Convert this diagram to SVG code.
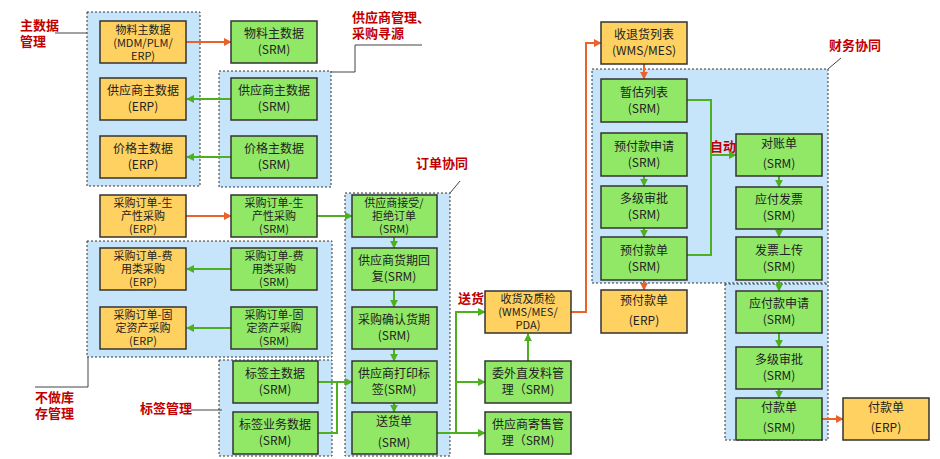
<svg xmlns="http://www.w3.org/2000/svg" width="940" height="459" viewBox="0 0 940 459">
<style>
.grp{fill:#C6E4FA;stroke:#333;stroke-width:1;stroke-dasharray:2,2}
.o rect{fill:#FFD160;stroke:#333;stroke-width:1.5}
.g rect{fill:#90E866;stroke:#333;stroke-width:1.5}
text{font-family:"Noto Sans CJK SC","Liberation Sans",sans-serif;font-size:12px;fill:#222;text-anchor:middle}
.t3 text{font-size:11px}
.lbl{fill:#C00000;font-weight:bold;font-size:13px;text-anchor:start}
.ln{fill:none;stroke:#444;stroke-width:1}
.ga{fill:none;stroke:#4DB01E;stroke-width:2;marker-end:url(#ag)}
.gl{fill:none;stroke:#4DB01E;stroke-width:2}
.oa{fill:none;stroke:#E8622A;stroke-width:2;marker-end:url(#ao)}
</style>
<defs>
<marker id="ag" viewBox="0 0 10 10" refX="9" refY="5" markerWidth="4" markerHeight="4" orient="auto"><path d="M0,0L10,5L0,10z" fill="#4DB01E"/></marker>
<marker id="ao" viewBox="0 0 10 10" refX="9" refY="5" markerWidth="4" markerHeight="4" orient="auto"><path d="M0,0L10,5L0,10z" fill="#E8622A"/></marker>
</defs>
<rect width="940" height="459" fill="#fff"/>
<g id="groups">
<rect class="grp" x="87" y="12" width="113" height="174"/>
<rect class="grp" x="219" y="71" width="112" height="116"/>
<rect class="grp" x="87" y="241" width="245" height="116"/>
<rect class="grp" x="219" y="360" width="113" height="96"/>
<rect class="grp" x="345" y="193" width="105" height="263"/>
<rect class="grp" x="592" y="69" width="236" height="214"/>
<rect class="grp" x="725" y="284" width="103" height="156"/>
</g>
<g id="labels">
<text class="lbl" x="20" y="30">主数据</text><text class="lbl" x="20" y="46">管理</text>
<path class="ln" d="M55,33H87"/>
<text class="lbl" x="352" y="22">供应商管理、</text><text class="lbl" x="352" y="38">采购寻源</text>
<path class="ln" d="M331,72H355V45H422"/>
<text class="lbl" x="416" y="168">订单协同</text>
<path class="ln" d="M450,193L460,181"/>
<text class="lbl" x="35" y="402">不做库</text><text class="lbl" x="35" y="418">存管理</text>
<path class="ln" d="M88,357V387H35"/>
<text class="lbl" x="140" y="413">标签管理</text>
<path class="ln" d="M191,410H222"/>
<text class="lbl" x="458" y="303">送货</text>
<text class="lbl" x="710" y="151">自动</text>
<text class="lbl" x="829" y="50">财务协同</text>
<path class="ln" d="M828,69L841,58"/>
</g>
<g id="connectors">
<path class="oa" d="M186,42H231"/>
<path class="oa" d="M186,216H231"/>
<path class="ga" d="M231,99H187"/>
<path class="ga" d="M231,157H187"/>
<path class="ga" d="M231,269H187"/>
<path class="ga" d="M231,328H187"/>
<path class="ga" d="M317,216H352"/>
<path class="ga" d="M394,237V248"/>
<path class="ga" d="M394,290V307"/>
<path class="ga" d="M394,349V361"/>
<path class="ga" d="M394,403V412"/>
<path class="ga" d="M318,382H352"/>
<path class="gl" d="M318,433H337V382"/>
<path class="ga" d="M437,433H456V312H485"/>
<path class="ga" d="M456,382H485"/>
<path class="ga" d="M456,433H485"/>
<path class="ga" d="M528,361V334"/>
<path class="oa" d="M571,312H586V43H601"/>
<path class="oa" d="M644,64V79"/>
<path class="gl" d="M687,100H711V255H687"/>
<path class="ga" d="M711,155H736"/>
<path class="ga" d="M644,176V186"/>
<path class="ga" d="M644,228V237"/>
<path class="oa" d="M644,280V290"/>
<path class="ga" d="M779,176V187"/>
<path class="ga" d="M779,229V237"/>
<path class="ga" d="M779,280V291"/>
<path class="ga" d="M779,333V347"/>
<path class="ga" d="M779,389V398"/>
<path class="oa" d="M822,419H843"/>
</g>
<g id="n1" class="o t3"><rect x="100" y="21" width="86" height="42"/><text x="143" y="34">物料主数据</text><text x="143" y="47">(MDM/PLM/</text><text x="143" y="60">ERP)</text></g>
<g id="n2" class="g"><rect x="231" y="21" width="86" height="42"/><text x="274" y="38">物料主数据</text><text x="274" y="54">(SRM)</text></g>
<g id="n3" class="o"><rect x="100" y="78" width="86" height="42"/><text x="143" y="95">供应商主数据</text><text x="143" y="111">(ERP)</text></g>
<g id="n4" class="g"><rect x="231" y="78" width="86" height="42"/><text x="274" y="95">供应商主数据</text><text x="274" y="111">(SRM)</text></g>
<g id="n5" class="o"><rect x="100" y="136" width="86" height="42"/><text x="143" y="153">价格主数据</text><text x="143" y="169">(ERP)</text></g>
<g id="n6" class="g"><rect x="231" y="136" width="86" height="42"/><text x="274" y="153">价格主数据</text><text x="274" y="169">(SRM)</text></g>
<g id="n7" class="o t3"><rect x="100" y="195" width="86" height="42"/><text x="143" y="207">采购订单-生</text><text x="143" y="220">产性采购</text><text x="143" y="233">(ERP)</text></g>
<g id="n8" class="g t3"><rect x="231" y="195" width="86" height="42"/><text x="274" y="207">采购订单-生</text><text x="274" y="220">产性采购</text><text x="274" y="233">(SRM)</text></g>
<g id="n9" class="o t3"><rect x="100" y="248" width="86" height="42"/><text x="143" y="260">采购订单-费</text><text x="143" y="273">用类采购</text><text x="143" y="286">(ERP)</text></g>
<g id="n10" class="g t3"><rect x="231" y="248" width="86" height="42"/><text x="274" y="260">采购订单-费</text><text x="274" y="273">用类采购</text><text x="274" y="286">(SRM)</text></g>
<g id="n11" class="o t3"><rect x="100" y="307" width="86" height="42"/><text x="143" y="319">采购订单-固</text><text x="143" y="332">定资产采购</text><text x="143" y="345">(ERP)</text></g>
<g id="n12" class="g t3"><rect x="231" y="307" width="86" height="42"/><text x="274" y="319">采购订单-固</text><text x="274" y="332">定资产采购</text><text x="274" y="345">(SRM)</text></g>
<g id="n13" class="g"><rect x="233" y="361" width="85" height="42"/><text x="275" y="378">标签主数据</text><text x="275" y="394">(SRM)</text></g>
<g id="n14" class="g"><rect x="233" y="412" width="85" height="42"/><text x="275" y="429">标签业务数据</text><text x="275" y="445">(SRM)</text></g>
<g id="n15" class="g t3"><rect x="352" y="195" width="85" height="42"/><text x="394" y="207">供应商接受/</text><text x="394" y="220">拒绝订单</text><text x="394" y="233">(SRM)</text></g>
<g id="n16" class="g"><rect x="352" y="248" width="85" height="42"/><text x="394" y="265">供应商货期回</text><text x="394" y="281">复(SRM)</text></g>
<g id="n17" class="g"><rect x="352" y="307" width="85" height="42"/><text x="394" y="324">采购确认货期</text><text x="394" y="340">(SRM)</text></g>
<g id="n18" class="g"><rect x="352" y="361" width="85" height="42"/><text x="394" y="378">供应商打印标</text><text x="394" y="394">签(SRM)</text></g>
<g id="n19" class="g"><rect x="352" y="412" width="85" height="42"/><text x="394" y="426">送货单</text><text x="394" y="447">(SRM)</text></g>
<g id="n20" class="o t3"><rect x="485" y="291" width="86" height="42"/><text x="528" y="303">收货及质检</text><text x="528" y="316">(WMS/MES/</text><text x="528" y="329">PDA)</text></g>
<g id="n21" class="g"><rect x="485" y="361" width="86" height="42"/><text x="528" y="378">委外直发料管</text><text x="528" y="394">理（SRM)</text></g>
<g id="n22" class="g"><rect x="485" y="412" width="86" height="42"/><text x="528" y="429">供应商寄售管</text><text x="528" y="445">理（SRM)</text></g>
<g id="n23" class="o"><rect x="601" y="22" width="86" height="42"/><text x="644" y="39">收退货列表</text><text x="644" y="55">(WMS/MES)</text></g>
<g id="n24" class="g"><rect x="601" y="79" width="86" height="43"/><text x="644" y="97">暂估列表</text><text x="644" y="113">(SRM)</text></g>
<g id="n25" class="g"><rect x="601" y="133" width="86" height="43"/><text x="644" y="151">预付款申请</text><text x="644" y="167">(SRM)</text></g>
<g id="n26" class="g"><rect x="601" y="186" width="86" height="42"/><text x="644" y="203">多级审批</text><text x="644" y="219">(SRM)</text></g>
<g id="n27" class="g"><rect x="601" y="237" width="86" height="43"/><text x="644" y="255">预付款单</text><text x="644" y="271">(SRM)</text></g>
<g id="n28" class="o"><rect x="601" y="290" width="86" height="43"/><text x="644" y="305">预付款单</text><text x="644" y="325">(ERP)</text></g>
<g id="n29" class="g"><rect x="736" y="134" width="86" height="42"/><text x="779" y="148">对账单</text><text x="779" y="168">(SRM)</text></g>
<g id="n30" class="g"><rect x="736" y="187" width="86" height="42"/><text x="779" y="204">应付发票</text><text x="779" y="220">(SRM)</text></g>
<g id="n31" class="g"><rect x="736" y="237" width="86" height="43"/><text x="779" y="255">发票上传</text><text x="779" y="271">(SRM)</text></g>
<g id="n32" class="g"><rect x="736" y="291" width="86" height="42"/><text x="779" y="308">应付款申请</text><text x="779" y="324">(SRM)</text></g>
<g id="n33" class="g"><rect x="736" y="347" width="86" height="42"/><text x="779" y="364">多级审批</text><text x="779" y="380">(SRM)</text></g>
<g id="n34" class="g"><rect x="736" y="398" width="86" height="42"/><text x="779" y="412">付款单</text><text x="779" y="432">(SRM)</text></g>
<g id="n35" class="o"><rect x="843" y="398" width="86" height="42"/><text x="886" y="412">付款单</text><text x="886" y="432">(ERP)</text></g>
</svg>
